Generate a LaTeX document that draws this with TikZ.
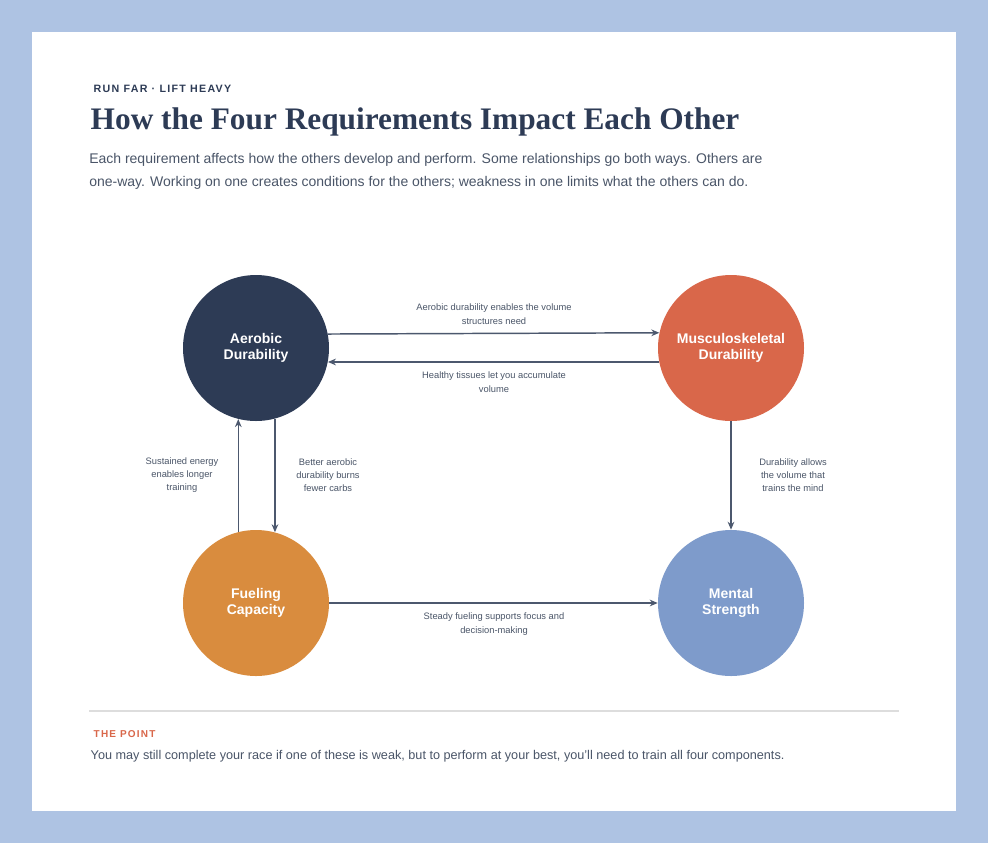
\documentclass[tikz,border=0pt]{standalone}
\usepackage{fontspec}
\setmainfont{Liberation Sans}
\newfontfamily\titlefont{Liberation Serif}
\usetikzlibrary{arrows.meta}
\definecolor{frame}{HTML}{AEC3E3}
\definecolor{ink}{HTML}{2D3B55}
\definecolor{body}{HTML}{4A5568}
\definecolor{aerocol}{HTML}{2D3B55}
\definecolor{muscol}{HTML}{D9674A}
\definecolor{fuelcol}{HTML}{D98C3E}
\definecolor{mentcol}{HTML}{7E9BCB}
\definecolor{rule}{HTML}{DDDDDD}
\tikzset{
  req/.style={circle,minimum size=146*0.75pt,inner sep=0pt,text=white,
    font=\fontsize{10.5}{12.5}\selectfont\bfseries,align=center},
  link/.style={draw=ink!85,line width=1.1pt,-{Stealth[length=6pt,width=5pt]}},
  lbl/.style={text=body,font=\fontsize{7}{10}\selectfont,align=center}
}
\begin{document}
\begin{tikzpicture}[x=0.75pt,y=-0.75pt]
\fill[frame] (0,0) rectangle (988,843);
\fill[white] (32,32) rectangle (956,811);
% header
\node[anchor=west,text=ink,font=\fontsize{8}{10}\selectfont\bfseries\addfontfeature{LetterSpace=12}] (kicker) at (89,89) {RUN FAR · LIFT HEAVY};
\node[anchor=west,text=ink,font=\titlefont\fontsize{23.5}{28}\selectfont\bfseries] (title) at (86,122) {How the Four Requirements Impact Each Other};
\node[anchor=north west,text=body,align=left,inner sep=0pt,font=\fontsize{10.5}{17}\selectfont] (intro) at (89,153)
  {Each requirement affects how the others develop and perform. Some relationships go both ways. Others are\\
   one-way. Working on one creates conditions for the others; weakness in one limits what the others can do.};
% requirements
\node[req,fill=aerocol] (aero) at (256,348) {Aerobic\\Durability};
\node[req,fill=muscol] (musc) at (731,348) {Musculoskeletal\\Durability};
\node[req,fill=fuelcol] (fuel) at (256,603) {Fueling\\Capacity};
\node[req,fill=mentcol] (ment) at (731,603) {Mental\\Strength};
% links
\draw[link] (aero.11.9) -- (musc.168.1);
\draw[link] (musc.191.9) -- (aero.-11.9);
\draw[link] (fuel.104.3) -- (aero.-104.3);
\draw[link] (aero.-75.7) -- (fuel.75.7);
\draw[link] (musc) -- (ment);
\draw[link] (fuel) -- (ment);
% labels
\node[lbl] (l1) at (494,314) {Aerobic durability enables the volume\\structures need};
\node[lbl] (l2) at (494,382) {Healthy tissues let you accumulate\\volume};
\node[lbl] (l3) at (182,475) {Sustained energy\\enables longer\\training};
\node[lbl] (l4) at (328,475) {Better aerobic\\durability burns\\fewer carbs};
\node[lbl] (l5) at (793,475) {Durability allows\\the volume that\\trains the mind};
\node[lbl] (l6) at (494,624) {Steady fueling supports focus and\\decision-making};
% footer
\draw[rule,line width=1pt] (89,711) -- (899,711);
\node[anchor=west,text=muscol,font=\fontsize{7.5}{9}\selectfont\bfseries\addfontfeature{LetterSpace=12}] (point) at (89,734) {THE POINT};
\node[anchor=west,text=body,font=\fontsize{9.5}{12}\selectfont] (note) at (86,756) {You may still complete your race if one of these is weak, but to perform at your best, you'll need to train all four components.};
\end{tikzpicture}
\end{document}
